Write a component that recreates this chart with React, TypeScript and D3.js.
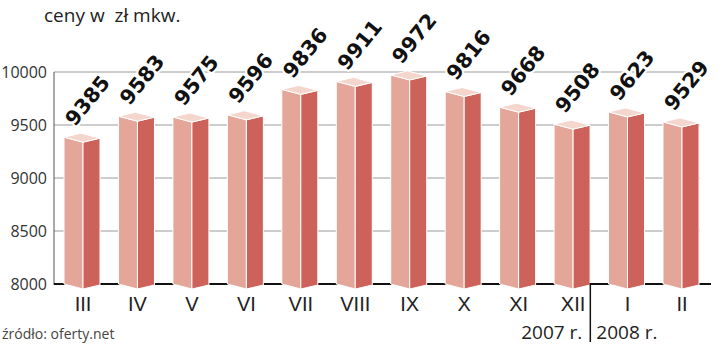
import React from "react";
import * as d3 from "d3";

const months = ["III", "IV", "V", "VI", "VII", "VIII", "IX", "X", "XI", "XII", "I", "II"];
const prices = [9385, 9583, 9575, 9596, 9836, 9911, 9972, 9816, 9668, 9508, 9623, 9529];
const yTicks = [8000, 8500, 9000, 9500, 10000];
const title = "ceny w\u00a0\u00a0zł mkw.";
const source = "źródło: oferty.net";
const years = ["2007 r.", "2008 r."];

export default function App() {
  const W = 720, H = 346;
  const x = d3.scalePoint<string>().domain(months).range([83, 682]);
  const y = d3.scaleLinear().domain([8000, 10000]).range([284, 72]);
  const axisX = 54;
  const frontW = 19, sideW = 17;
  const slopeL = 5, slopeR = 4;
  const baseY = y(8000);

  const sepX = ((x("XII") as number) + (x("I") as number)) / 2 - 10;

  return (
    <svg width={W} height={H} style={{ position: "absolute", left: 0, top: 0, background: "#fff" }}
      fontFamily="'Liberation Sans', Arial, sans-serif">
      <rect width={W} height={H} fill="#fff" />
      <text x={44} y={22} fontSize={19} fill="#222" fontFamily="'Open Sans', sans-serif">{title}</text>
      {yTicks.map(t => (
        <g key={t}>
          <text x={47} y={y(t) + 5.5} fontSize={16} fill="#333" textAnchor="end" fontFamily="'Open Sans', sans-serif">{t}</text>
          {t > 8000 && <line x1={axisX} x2={700} y1={y(t)} y2={y(t)} stroke="#9a9a9a" strokeWidth={1} />}
        </g>
      ))}
      <line x1={axisX} x2={axisX} y1={y(10000)} y2={baseY + 1} stroke="#555" strokeWidth={1} />
      <line x1={axisX} x2={711} y1={baseY} y2={baseY} stroke="#111" strokeWidth={2} />
      {months.map((m, i) => {
        const xs = x(m) as number;
        const v = prices[i];
        const yf = y(v) + 5;
        const x0 = xs - frontW, x1 = xs + sideW;
        const bF = baseY + 5;
        const front = `M${x0},${yf - slopeL}L${xs},${yf}L${xs},${bF}L${x0},${bF - slopeL}Z`;
        const side = `M${xs},${yf}L${x1},${yf - slopeR}L${x1},${bF - slopeR}L${xs},${bF}Z`;
        const top = `M${x0},${yf - slopeL}L${xs},${yf}L${x1},${yf - slopeR}L${x0 + sideW},${yf - slopeL - slopeR}Z`;
        return (
          <g key={m}>
            <path d={front} fill="#e3a698" stroke="#fff" strokeWidth={1} />
            <path d={side} fill="#cd625a" stroke="#fff" strokeWidth={1} />
            <path d={top} fill="#f4d6cd" stroke="#fff" strokeWidth={1} />
            <text transform={`translate(${xs - 8},${y(v) - 10}) rotate(-51)`}
              fontFamily="'DejaVu Sans', sans-serif" fontWeight="bold" fontSize={20.5} fill="#111"
              stroke="#fff" strokeWidth={4} paintOrder="stroke" strokeLinejoin="round">{v}</text>
            <text x={xs} y={311} fontSize={20} fill="#222" textAnchor="middle">{m}</text>
          </g>
        );
      })}
      <line x1={sepX} x2={sepX} y1={283} y2={342} stroke="#111" strokeWidth={1.5} />
      <text x={sepX - 8} y={339} fontSize={19} fill="#222" textAnchor="end" fontFamily="'Open Sans', sans-serif">{years[0]}</text>
      <text x={sepX + 6} y={339} fontSize={19} fill="#222" fontFamily="'Open Sans', sans-serif">{years[1]}</text>
      <text x={2} y={339} fontSize={14} fill="#444" fontFamily="'Open Sans', sans-serif">{source}</text>
    </svg>
  );
}
